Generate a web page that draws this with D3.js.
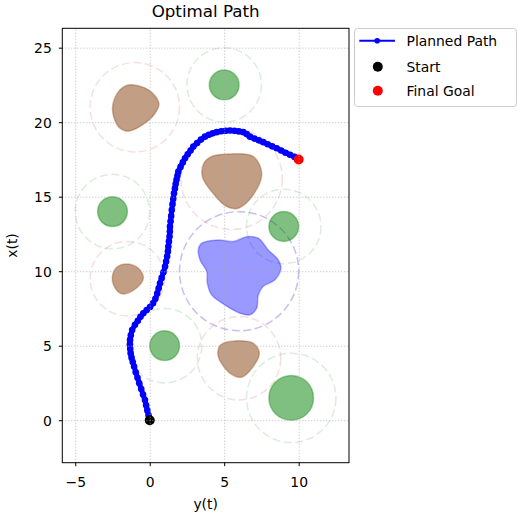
<!DOCTYPE html>
<html>
<head>
<meta charset="utf-8">
<script src="https://cdn.jsdelivr.net/npm/d3@7"></script>
<style>
  body { margin: 0; background: #fff; }
  svg { display: block; font-family: "DejaVu Sans", sans-serif; }
</style>
</head>
<body>
<div id="chart"></div>
<script>
// planned path, horizontal = y(t), vertical = x(t)
const pathY = [0, -0.08, -0.16, -0.24, -0.32, -0.45, -0.57, -0.70, -0.82, -0.94, -1.05, -1.14, -1.22, -1.28, -1.31, -1.33, -1.32,
  -1.27, -1.18, -0.99, -0.80, -0.62, -0.43, -0.20, 0.02, 0.22, 0.38, 0.50, 0.60, 0.69, 0.80, 0.92, 1.03, 1.10, 1.17, 1.22, 1.25,
  1.29, 1.33, 1.35, 1.36, 1.40, 1.44, 1.48, 1.53, 1.58, 1.63, 1.69, 1.74, 1.80, 1.86, 1.92, 2.07, 2.22, 2.37, 2.55, 2.74, 2.93,
  3.18, 3.44, 3.71, 3.97, 4.23, 4.50, 4.80, 5.10, 5.39, 5.69, 5.98, 6.28, 6.51, 6.73, 7.03, 7.32, 7.62, 7.92, 8.22, 8.52, 8.82,
  9.12, 9.42, 9.72, 10.0];
const pathX = [0, 0.33, 0.66, 1.00, 1.36, 1.72, 2.10, 2.48, 2.85, 3.22, 3.60, 3.90, 4.20, 4.50, 4.80, 5.10, 5.39,
  5.70, 6.05, 6.40, 6.68, 6.94, 7.18, 7.40, 7.60, 7.85, 8.15, 8.50, 8.85, 9.19, 9.55, 9.93, 10.31, 10.65, 11.0, 11.33, 11.65,
  12.0, 12.33, 12.66, 12.99, 13.35, 13.70, 14.11, 14.50, 14.87, 15.23, 15.55, 15.85, 16.13, 16.40, 16.68, 17.0, 17.30, 17.58, 17.85, 18.10, 18.36,
  18.60, 18.83, 19.03, 19.15, 19.25, 19.33, 19.39, 19.43, 19.44, 19.42, 19.38, 19.33, 19.20, 19.03, 18.90, 18.78, 18.66, 18.52, 18.38, 18.25, 18.10,
  17.95, 17.81, 17.67, 17.54];

const startPoint = [0, 0];
const goalPoint = [10, 17.5];

// round (green) obstacles
const greenY = [5, -2.5, 9, 1, 9.5];
const greenX = [22.5, 14, 13, 5, 1.5];
const greenR = [1, 1, 1, 1, 1.5];
const greenMargin = [2.5, 2.5, 2.5, 2.5, 3.0];

// irregular (brown) obstacles: outlines and safety circles
const brownOutlines = [
  [[-1.44, 22.5], [-0.09, 22.17], [0.62, 21.27], [0.36, 20.6], [-0.32, 19.93], [-1.44, 19.4], [-2.1, 19.7], [-2.5, 20.9], [-2.1, 22.05]],
  [[4.16, 17.7], [5.39, 17.87], [6.95, 17.7], [7.52, 16.58], [6.95, 15.12], [5.95, 14.23], [5.17, 14.34], [4.16, 15.34], [3.53, 16.35], [3.64, 17.25]],
  [[-1.54, 10.49], [-0.76, 10.2], [-0.43, 9.53], [-0.99, 8.79], [-1.88, 8.48], [-2.38, 8.97], [-2.51, 9.64], [-2.21, 10.27]],
  [[4.94, 5.17], [5.95, 5.34], [6.95, 5.17], [7.36, 4.5], [6.95, 3.6], [6.17, 2.89], [5.39, 3.15], [4.6, 4.27], [4.67, 4.94]]
];
const brownCenterY = [-1, 5.5, -1.5, 6];
const brownCenterX = [21, 16.2, 9.5, 4.16];
const brownMargin = [3.0, 3.4, 2.5, 2.8];

// large (blue) obstacle
const blueOutline = [[3.49, 11.88], [4.6, 12.1], [5.61, 11.99], [6.51, 12.32], [7.29, 12.21], [7.96, 11.43], [8.63, 10.76],
  [8.81, 10.2], [8.41, 9.42], [7.62, 8.97], [7.29, 8.41], [7.18, 7.52], [6.73, 7.07], [6.06, 7.18], [5.05, 7.74], [4.16, 8.41],
  [3.87, 9.19], [3.83, 9.97], [3.38, 10.76], [3.26, 11.43]];
const blueCenter = [6, 10];
const blueMargin = 4;

const xTicks = [-5, 0, 5, 10];
const yTicks = [0, 5, 10, 15, 20, 25];
const legendLabels = ["Planned Path", "Start", "Final Goal"];

const WIDTH = 518, HEIGHT = 519;
const AX_LEFT = 62.3, AX_RIGHT = 349, AX_TOP = 28.3, AX_BOTTOM = 462.7;

const svg = d3.select("#chart").append("svg")
  .attr("width", WIDTH).attr("height", HEIGHT);

const xScale = d3.scaleLinear().domain([-5.87, 13.38]).range([AX_LEFT, AX_RIGHT]);
const yScale = d3.scaleLinear().domain([-2.85, 26.3]).range([AX_BOTTOM, AX_TOP]);
const unit = xScale(1) - xScale(0);

const plot = svg.append("g");
plot.append("clipPath").attr("id", "clip")
  .append("rect").attr("x", AX_LEFT).attr("y", AX_TOP)
  .attr("width", AX_RIGHT - AX_LEFT).attr("height", AX_BOTTOM - AX_TOP);
const inner = plot.append("g").attr("clip-path", "url(#clip)");

const blob = d3.line()
  .x(d => xScale(d[0])).y(d => yScale(d[1]))
  .curve(d3.curveCatmullRomClosed.alpha(0.5));

// safety circles
inner.selectAll("circle.gmargin").data(greenY).join("circle")
  .attr("cx", d => xScale(d)).attr("cy", (d, i) => yScale(greenX[i]))
  .attr("r", (d, i) => greenMargin[i] * unit)
  .attr("fill", "none").attr("stroke", "green").attr("stroke-opacity", 0.14)
  .attr("stroke-width", 1.5).attr("stroke-dasharray", "8,3.6");
inner.selectAll("circle.bmargin").data(brownCenterY).join("circle")
  .attr("cx", d => xScale(d)).attr("cy", (d, i) => yScale(brownCenterX[i]))
  .attr("r", (d, i) => brownMargin[i] * unit)
  .attr("fill", "none").attr("stroke", "rgb(190,70,70)").attr("stroke-opacity", 0.17)
  .attr("stroke-width", 1.5).attr("stroke-dasharray", "8,3.6");
inner.append("circle")
  .attr("cx", xScale(blueCenter[0])).attr("cy", yScale(blueCenter[1]))
  .attr("r", blueMargin * unit)
  .attr("fill", "none").attr("stroke", "rgb(100,70,200)").attr("stroke-opacity", 0.35)
  .attr("stroke-width", 1.5).attr("stroke-dasharray", "8,3.6");

// obstacles
inner.selectAll("circle.green").data(greenY).join("circle")
  .attr("cx", d => xScale(d)).attr("cy", (d, i) => yScale(greenX[i]))
  .attr("r", (d, i) => greenR[i] * unit)
  .attr("fill", "green").attr("fill-opacity", 0.5)
  .attr("stroke", "green").attr("stroke-opacity", 0.35).attr("stroke-width", 1.5);
inner.selectAll("path.brown").data(brownOutlines).join("path")
  .attr("d", blob)
  .attr("fill", "rgb(139,69,19)").attr("fill-opacity", 0.52)
  .attr("stroke", "rgb(139,69,19)").attr("stroke-opacity", 0.35).attr("stroke-width", 1.5);
inner.append("path").attr("d", blob(blueOutline))
  .attr("fill", "blue").attr("fill-opacity", 0.4)
  .attr("stroke", "blue").attr("stroke-opacity", 0.3).attr("stroke-width", 1.5);

// grid
const gridH = (AX_BOTTOM - AX_TOP), gridW = (AX_RIGHT - AX_LEFT);
plot.append("g").attr("transform", `translate(0,${AX_BOTTOM})`)
  .call(d3.axisBottom(xScale).tickValues(xTicks).tickSize(-gridH).tickFormat(""))
  .call(g => g.select(".domain").remove())
  .selectAll("line").attr("stroke", "#a8a8a8").attr("stroke-width", 0.8).attr("stroke-dasharray", "1,2");
plot.append("g").attr("transform", `translate(${AX_LEFT},0)`)
  .call(d3.axisLeft(yScale).tickValues(yTicks).tickSize(-gridW).tickFormat(""))
  .call(g => g.select(".domain").remove())
  .selectAll("line").attr("stroke", "#a8a8a8").attr("stroke-width", 0.8).attr("stroke-dasharray", "1,2");

// planned path
const pathPts = pathY.map((y, i) => [y, pathX[i]]);
inner.append("path")
  .attr("d", d3.line().x(d => xScale(d[0])).y(d => yScale(d[1])).curve(d3.curveCatmullRom)(pathPts))
  .attr("fill", "none").attr("stroke", "blue").attr("stroke-width", 5);
inner.selectAll("circle.pt").data(pathPts).join("circle")
  .attr("cx", d => xScale(d[0])).attr("cy", d => yScale(d[1]))
  .attr("r", 3.3).attr("fill", "blue");

inner.append("circle").attr("cx", xScale(startPoint[0])).attr("cy", yScale(startPoint[1]))
  .attr("r", 5).attr("fill", "black");
inner.append("circle").attr("cx", xScale(goalPoint[0])).attr("cy", yScale(goalPoint[1]))
  .attr("r", 5).attr("fill", "red");

// frame
plot.append("rect").attr("x", AX_LEFT).attr("y", AX_TOP)
  .attr("width", gridW).attr("height", gridH)
  .attr("fill", "none").attr("stroke", "black").attr("stroke-width", 1);

// axes
const xAxis = plot.append("g").attr("transform", `translate(0,${AX_BOTTOM})`)
  .call(d3.axisBottom(xScale).tickValues(xTicks).tickSize(3.5).tickPadding(10)
    .tickFormat(d => d < 0 ? "\u2212" + Math.abs(d) : String(d)));
xAxis.select(".domain").remove();
xAxis.selectAll("text").attr("font-size", 13.9).attr("fill", "#000")
  .attr("font-family", "DejaVu Sans").attr("dy", 0).attr("y", 24);

const yAxis = plot.append("g").attr("transform", `translate(${AX_LEFT},0)`)
  .call(d3.axisLeft(yScale).tickValues(yTicks).tickSize(3.5).tickPadding(7));
yAxis.select(".domain").remove();
yAxis.selectAll("text").attr("font-size", 13.9).attr("fill", "#000")
  .attr("font-family", "DejaVu Sans").attr("dy", "0.36em");

svg.append("text").attr("x", (AX_LEFT + AX_RIGHT) / 2).attr("y", 17)
  .attr("text-anchor", "middle").attr("font-size", 16.7).text("Optimal Path");
svg.append("text").attr("x", (AX_LEFT + AX_RIGHT) / 2).attr("y", 509)
  .attr("text-anchor", "middle").attr("font-size", 13.9).text("y(t)");
svg.append("text").attr("transform", `translate(16.5,${(AX_TOP + AX_BOTTOM) / 2}) rotate(-90)`)
  .attr("text-anchor", "middle").attr("font-size", 13.9).text("x(t)");

// legend
const legend = svg.append("g");
legend.append("rect").attr("x", 354.5).attr("y", 28.5).attr("width", 162).attr("height", 78)
  .attr("rx", 3).attr("fill", "white").attr("fill-opacity", 0.8)
  .attr("stroke", "#cccccc").attr("stroke-width", 1);
const rowY = [40.7, 66.7, 90.7];
legend.append("line").attr("x1", 359.3).attr("x2", 395).attr("y1", rowY[0]).attr("y2", rowY[0])
  .attr("stroke", "blue").attr("stroke-width", 2);
legend.append("circle").attr("cx", 377.2).attr("cy", rowY[0]).attr("r", 2.8).attr("fill", "blue");
legend.append("circle").attr("cx", 377.8).attr("cy", rowY[1]).attr("r", 5).attr("fill", "black");
legend.append("circle").attr("cx", 377.8).attr("cy", rowY[2]).attr("r", 5).attr("fill", "red");
legend.selectAll("text.lab").data(legendLabels).join("text")
  .attr("x", 406.5).attr("y", (d, i) => rowY[i] + 5)
  .attr("font-size", 13.9).attr("fill", "#000").text(d => d);
</script>
</body>
</html>
